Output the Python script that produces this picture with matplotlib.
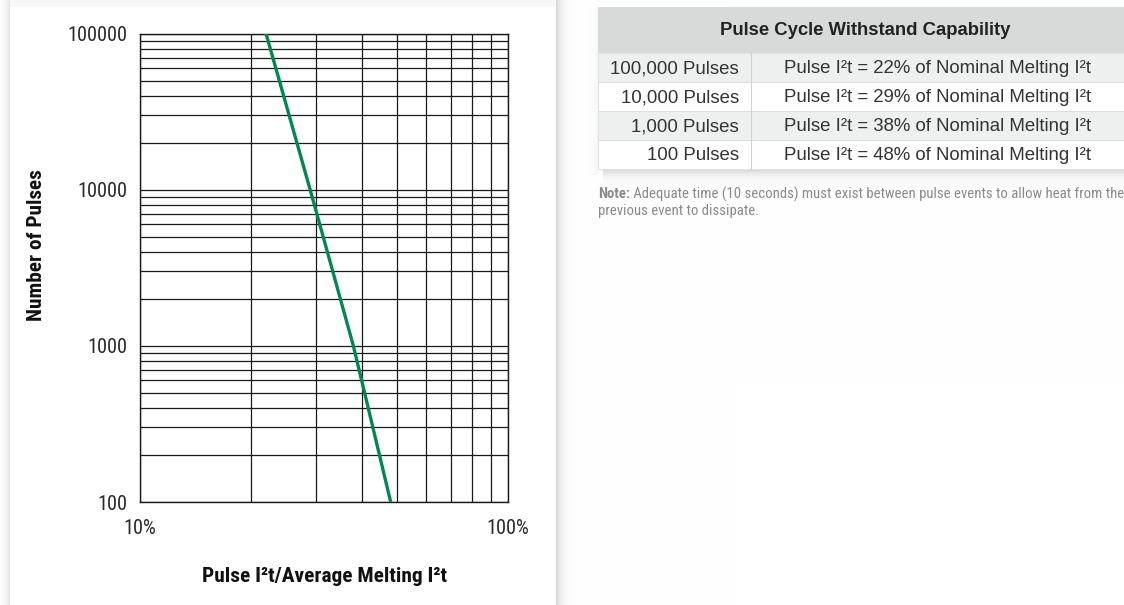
import matplotlib
matplotlib.use("Agg")
import matplotlib.pyplot as plt
from matplotlib import font_manager
from matplotlib.font_manager import FontProperties
from matplotlib.patches import Rectangle
from matplotlib.ticker import FixedLocator, LogLocator, NullFormatter
import numpy as np

# -----------------------------------------------------------------------
# Data
# -----------------------------------------------------------------------
pulse_pct = [22, 29, 38, 48]            # Pulse I2t as % of melting I2t
pulse_count = [100000, 10000, 1000, 100]

x_ticks = [10, 100]
x_tick_labels = ["10%", "100%"]
y_ticks = [100, 1000, 10000, 100000]
y_tick_labels = ["100", "1000", "10000", "100000"]

table_title = "Pulse Cycle Withstand Capability"
table_left = ["100,000 Pulses", "10,000 Pulses", "1,000 Pulses", "100 Pulses"]
table_right = ["Pulse I\u00b2t = 22% of Nominal Melting I\u00b2t",
               "Pulse I\u00b2t = 29% of Nominal Melting I\u00b2t",
               "Pulse I\u00b2t = 38% of Nominal Melting I\u00b2t",
               "Pulse I\u00b2t = 48% of Nominal Melting I\u00b2t"]
note_bold = "Note:"
note_text = " Adequate time (10 seconds) must exist between pulse events to allow heat from the"
note_text2 = "previous event to dissipate."

# -----------------------------------------------------------------------
# Fonts: find a condensed face if one is installed
# -----------------------------------------------------------------------
fonts = font_manager.fontManager.ttflist
names = {f.name for f in fonts}


def narrow_props(size, weight="normal"):
    for fam in ["Liberation Sans Narrow", "Roboto Condensed", "Open Sans Condensed"]:
        if fam in names:
            return FontProperties(family=fam, size=size, weight=weight)
    for fam in ["Roboto", "Open Sans", "DejaVu Sans", "Noto Sans"]:
        if any(f.name == fam and f.stretch in ("condensed", 75, "semi-condensed")
               for f in fonts):
            return FontProperties(family=fam, size=size, weight=weight,
                                  stretch="condensed")
    return FontProperties(family="DejaVu Sans", size=size * 0.85, weight=weight)


PLAIN = "Liberation Sans" if "Liberation Sans" in names else "DejaVu Sans"

# -----------------------------------------------------------------------
# Style
# -----------------------------------------------------------------------
W, H = 1124, 605
GREEN = "#00894f"
GRID = "#1a1a1a"

fig = plt.figure(figsize=(W / 100, H / 100), dpi=100)

# background with soft card shadows
bg = np.ones((H, W, 3))
xs = np.arange(W)
ys = np.arange(H)
left_sh = np.where(xs < 10, 0.10 * np.exp(-(9 - xs) / 4.0), 0)
right_sh = np.where(xs >= 556, 0.16 * np.exp(-(xs - 556) / 5.0), 0)
bg -= (left_sh + right_sh)[None, :, None]
top_sh = np.where(ys < 7, 0.025, 0)
bg[:, 10:556] -= top_sh[:, None, None]
tab_sh = np.where(ys >= 170, 0.14 * np.exp(-(ys - 170) / 6.0), 0)
bg[:, 603:] -= tab_sh[:, None, None]
lsh = np.where((xs < 598) & (xs > 580), 0.05 * np.exp(-(598 - xs) / 4.0), 0)
bg[7:175, :] -= lsh[None, :, None]
fig.figimage(np.clip(bg, 0, 1), xo=0, yo=0, zorder=-10)

# -----------------------------------------------------------------------
# Chart
# -----------------------------------------------------------------------
ax = fig.add_axes([140 / W, 1 - 502 / H, 368 / W, 468.5 / H])
ax.patch.set_alpha(0)
ax.set_xscale("log")
ax.set_yscale("log")
ax.set_xlim(10, 100)
ax.set_ylim(100, 100000)

ax.xaxis.set_major_locator(FixedLocator(x_ticks))
ax.xaxis.set_minor_locator(LogLocator(base=10, subs=np.arange(2, 10)))
ax.yaxis.set_major_locator(FixedLocator(y_ticks))
ax.yaxis.set_minor_locator(LogLocator(base=10, subs=np.arange(2, 10)))
ax.xaxis.set_minor_formatter(NullFormatter())
ax.yaxis.set_minor_formatter(NullFormatter())
ax.set_xticklabels(x_tick_labels)
ax.set_yticklabels(y_tick_labels)

ax.grid(True, which="both", color=GRID, linewidth=0.9)
ax.tick_params(which="both", length=0)
ax.tick_params(axis="x", pad=12)
ax.tick_params(axis="y", pad=9)
tick_fp = narrow_props(14.6)
for lab in ax.get_xticklabels() + ax.get_yticklabels():
    lab.set_fontproperties(tick_fp)
    lab.set_color("#2a2a2a")
for s in ax.spines.values():
    s.set_color(GRID)
    s.set_linewidth(1.0)

ax.plot(pulse_pct, pulse_count, color=GREEN, linewidth=2.4, zorder=5,
        solid_capstyle="butt")

fig.text(324 / W, 1 - 577 / H, "Pulse I\u00b2t/Average Melting I\u00b2t",
         fontproperties=narrow_props(15.4, "bold"), color="#111111",
         ha="center", va="center")
fig.text(37 / W, 1 - 245 / H, "Number of Pulses", rotation=90,
         fontproperties=narrow_props(15.3, "bold"), color="#111111",
         ha="center", va="center")

# -----------------------------------------------------------------------
# Table (overlay in pixel coordinates)
# -----------------------------------------------------------------------
ov = fig.add_axes([0, 0, 1, 1])
ov.set_xlim(0, W)
ov.set_ylim(H, 0)
ov.axis("off")
ov.patch.set_alpha(0)

tx0, tx1, tdiv = 598, W, 751
head_top, head_bot = 7, 53.3
row_h = 29
ov.add_patch(Rectangle((tx0, head_top), tx1 - tx0, head_bot - head_top,
                       facecolor="#d8d9d9", edgecolor="none"))
ov.text(865, (head_top + head_bot) / 2, table_title,
        family=PLAIN, fontsize=13.3, fontweight="bold", color="#222222",
        ha="center", va="center")
for i, (l, r) in enumerate(zip(table_left, table_right)):
    y0 = head_bot + i * row_h
    fc = "#edf0ee" if i % 2 == 0 else "#ffffff"
    ov.add_patch(Rectangle((tx0, y0), tx1 - tx0, row_h, facecolor=fc,
                           edgecolor="#dcdcdc", linewidth=0.6))
    ov.text(739, y0 + row_h / 2 + 1, l, family=PLAIN, fontsize=13.4,
            color="#333333", ha="right", va="center")
    ov.text(784, y0 + row_h / 2 + 1, r, family=PLAIN, fontsize=13.4,
            color="#333333", ha="left", va="center")
ov.plot([tdiv, tdiv], [head_bot, head_bot + 4 * row_h], color="#d0d0d0",
        linewidth=0.8)

# note
note_fp = narrow_props(10.6)
t = ov.text(598, 194, note_bold, fontproperties=narrow_props(10.6, "bold"),
            color="#8a8a8a", ha="left", va="center")
fig.canvas.draw()
bb = t.get_window_extent()
ov.text(598 + bb.width, 194, note_text, fontproperties=note_fp,
        color="#8a8a8a", ha="left", va="center")
ov.text(598, 211, note_text2, fontproperties=note_fp,
        color="#8a8a8a", ha="left", va="center")

fig.savefig("out.png", dpi=100)
